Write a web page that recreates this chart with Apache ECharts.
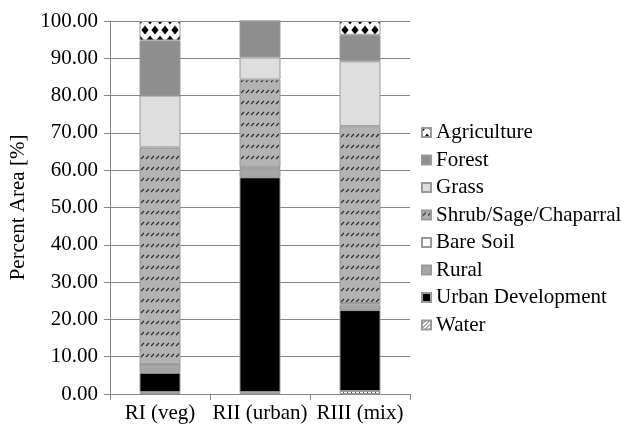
<!DOCTYPE html>
<html>
<head>
<meta charset="utf-8">
<script src="https://cdn.jsdelivr.net/npm/echarts@6/dist/echarts.min.js"></script>
<style>
html,body{margin:0;padding:0;background:#fff;}
#chart{width:638px;height:433px;}
</style>
</head>
<body>
<div id="chart"></div>
<script>
// ---- data ----
var categories = ['RI (veg)', 'RII (urban)', 'RIII (mix)'];
var water       = [0.5, 0.5, 0.8];
var urban       = [5.2, 57.6, 21.7];
var rural       = [2.2, 2.4, 1.3];
var bareSoil    = [0.1, 0.2, 0.6];
var shrub       = [58.1, 23.6, 47.4];
var grass       = [13.9, 5.9, 17.4];
var forest      = [14.8, 9.8, 7.1];
var agriculture = [5.2, 0, 3.7];
var yTicks = { min: 0, max: 100, interval: 10 };

// ---- patterns ----
function makeTile(w, h, draw) {
  var c = document.createElement('canvas');
  c.width = w; c.height = h;
  var ctx = c.getContext('2d');
  draw(ctx, w, h);
  return { image: c, repeat: 'repeat' };
}
var agriPattern = makeTile(10, 20, function (ctx, w, h) {
  ctx.fillStyle = '#fff'; ctx.fillRect(0, 0, w, h);
  ctx.fillStyle = '#000';
  function dia(x, y) {
    ctx.beginPath();
    ctx.moveTo(x, y - 4.6); ctx.lineTo(x + 3.6, y); ctx.lineTo(x, y + 4.6); ctx.lineTo(x - 3.6, y);
    ctx.closePath(); ctx.fill();
  }
  dia(0, 0); dia(10, 0); dia(0, 20); dia(10, 20); dia(5, 10);
});
var shrubPattern = makeTile(5, 11, function (ctx, w, h) {
  ctx.fillStyle = '#b3b3b3'; ctx.fillRect(0, 0, w, h);
  ctx.strokeStyle = '#2a2a2a'; ctx.lineWidth = 1.1;
  ctx.beginPath(); ctx.moveTo(1, 5); ctx.lineTo(4, 2); ctx.stroke();
});
var waterPattern = makeTile(4, 4, function (ctx, w, h) {
  ctx.fillStyle = '#fff'; ctx.fillRect(0, 0, w, h);
  ctx.strokeStyle = '#444'; ctx.lineWidth = 0.9;
  ctx.beginPath(); ctx.moveTo(0, 4); ctx.lineTo(4, 0); ctx.stroke();
  ctx.beginPath(); ctx.moveTo(-1, 1); ctx.lineTo(1, -1); ctx.stroke();
  ctx.beginPath(); ctx.moveTo(3, 5); ctx.lineTo(5, 3); ctx.stroke();
});

var FONT = 'Liberation Serif';
var FS = 21;
var seriesDefs = [
  { name: 'Water', data: water, color: waterPattern },
  { name: 'Urban Development', data: urban, color: '#000000' },
  { name: 'Rural', data: rural, color: '#a6a6a6' },
  { name: 'Bare Soil', data: bareSoil, color: '#ffffff' },
  { name: 'Shrub/Sage/Chaparral', data: shrub, color: shrubPattern },
  { name: 'Grass', data: grass, color: '#dedede' },
  { name: 'Forest', data: forest, color: '#8e8e8e' },
  { name: 'Agriculture', data: agriculture, color: agriPattern }
];

var series = seriesDefs.map(function (s) {
  return {
    name: s.name,
    type: 'bar',
    stack: 'total',
    barWidth: 41,
    data: s.data,
    itemStyle: { color: s.color, borderColor: '#9a9a9a', borderWidth: 1 }
  };
});

var chart = echarts.init(document.getElementById('chart'), null, { renderer: 'canvas' });
chart.setOption({
  animation: false,
  backgroundColor: '#ffffff',
  grid: { left: 110, right: 228, top: 21, bottom: 39, containLabel: false },
  legend: {
    orient: 'vertical',
    left: 421,
    top: 122,
    padding: 0,
    itemWidth: 9,
    itemHeight: 9,
    itemGap: 6.5,
    icon: 'rect',
    data: seriesDefs.map(function (s) { return s.name; }).reverse(),
    textStyle: { fontFamily: FONT, fontSize: FS, color: '#000' }
  },
  xAxis: {
    type: 'category',
    data: categories,
    axisLine: { lineStyle: { color: '#868686', width: 1 } },
    axisTick: { show: true, length: 6, lineStyle: { color: '#868686' } },
    axisLabel: { fontFamily: FONT, fontSize: FS, color: '#000', margin: 9, interval: 0 }
  },
  yAxis: {
    type: 'value',
    min: yTicks.min,
    max: yTicks.max,
    interval: yTicks.interval,
    name: 'Percent Area [%]',
    nameLocation: 'middle',
    nameGap: 81,
    nameTextStyle: { fontFamily: FONT, fontSize: FS, color: '#000' },
    axisLine: { show: true, lineStyle: { color: '#868686', width: 1 } },
    axisTick: { show: true, length: 6, lineStyle: { color: '#868686' } },
    splitLine: { show: true, lineStyle: { color: '#868686', width: 1 } },
    axisLabel: { fontFamily: FONT, fontSize: FS, color: '#000', margin: 12,
      formatter: function (v) { return v.toFixed(2); } }
  },
  series: series
});
</script>
</body>
</html>
